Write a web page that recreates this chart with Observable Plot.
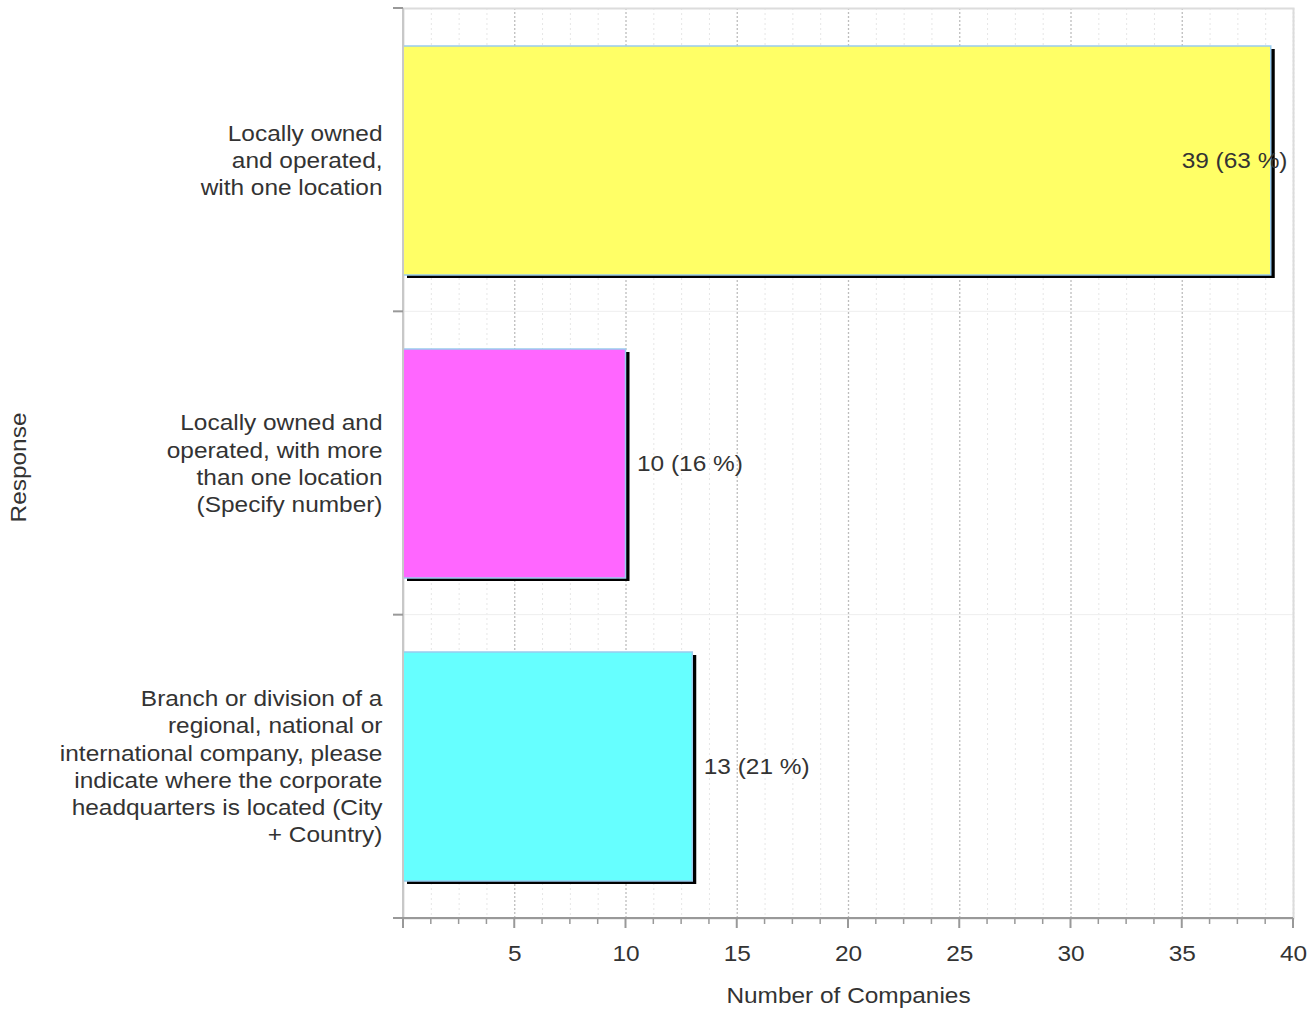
<!DOCTYPE html>
<html>
<head>
<meta charset="utf-8">
<script src="https://cdn.jsdelivr.net/npm/d3@7"></script>
<script src="https://cdn.jsdelivr.net/npm/@observablehq/plot@0.6"></script>
<style>
  html, body { margin: 0; padding: 0; background: #fff; }
  #chart { width: 1316px; height: 1011px; }
</style>
</head>
<body>
<div id="chart"></div>
<script>
const categories = [
  "Locally owned\nand operated,\nwith one location",
  "Locally owned and\noperated, with more\nthan one location\n(Specify number)",
  "Branch or division of a\nregional, national or\ninternational company, please\nindicate where the corporate\nheadquarters is located (City\n+ Country)"
];
const counts = [39, 10, 13];
const percents = [63, 16, 21];
const colors = ["#ffff66", "#ff66ff", "#66ffff"];
const majorTicks = [5, 10, 15, 20, 25, 30, 35, 40];
const minorTicks = [0, 1.25, 2.5, 3.75, 6.25, 7.5, 8.75, 11.25, 12.5, 13.75, 16.25, 17.5, 18.75,
  21.25, 22.5, 23.75, 26.25, 27.5, 28.75, 31.25, 32.5, 33.75, 36.25, 37.5, 38.75];
const xLabel = "Number of Companies";
const yLabel = "Response";

const data = categories.map((c, i) => ({
  category: c, count: counts[i], pct: percents[i], color: colors[i],
  label: `${counts[i]} (${percents[i]} %)`
}));

const W = 1316, H = 1011;
const font = "'Liberation Sans', Arial, Helvetica, sans-serif";
const FS = 22;
const STRETCH = 1.11;
const inset = 37;

const bandEdges = (index, scales, values, dims) => {
  const {height, marginTop, marginBottom, marginLeft, width, marginRight} = dims;
  const n = categories.length;
  const bh = (height - marginTop - marginBottom) / n;
  const g = d3.create("svg:g");
  const right = width - marginRight;
  for (let i = 1; i < n; i++) {
    const y = marginTop + i * bh;
    g.append("line").attr("x1", marginLeft).attr("x2", right).attr("y1", y).attr("y2", y)
      .attr("stroke", "#eeeeee").attr("stroke-width", 1);
  }
  return g.node();
};

const axesMark = (index, scales, values, dims) => {
  const {height, marginTop, marginBottom, marginLeft, width, marginRight} = dims;
  const n = categories.length;
  const bh = (height - marginTop - marginBottom) / n;
  const x = scales.x;
  const g = d3.create("svg:g");
  const right = width - marginRight;
  const bottom = height - marginBottom;
  g.append("line").attr("x1", marginLeft).attr("x2", marginLeft).attr("y1", marginTop).attr("y2", bottom)
    .attr("stroke", "#c8c8c8").attr("stroke-width", 2);
  for (let i = 0; i <= n; i++) {
    const y = marginTop + i * bh;
    g.append("line").attr("x1", marginLeft - 10).attr("x2", marginLeft).attr("y1", y).attr("y2", y)
      .attr("stroke", "#999").attr("stroke-width", 2);
  }
  g.append("line").attr("x1", marginLeft).attr("x2", right).attr("y1", bottom).attr("y2", bottom)
    .attr("stroke", "#999").attr("stroke-width", 2);
  for (const t of [0, ...majorTicks]) {
    g.append("line").attr("x1", x(t)).attr("x2", x(t)).attr("y1", bottom).attr("y2", bottom + 10)
      .attr("stroke", "#999").attr("stroke-width", 2);
  }
  for (const t of minorTicks) {
    if (t === 0) continue;
    g.append("line").attr("x1", x(t)).attr("x2", x(t)).attr("y1", bottom).attr("y2", bottom + 6)
      .attr("stroke", "#999").attr("stroke-width", 1.5);
  }
  return g.node();
};

const chart = Plot.plot({
  width: W,
  height: H,
  marginLeft: 403,
  marginRight: 23,
  marginTop: 8,
  marginBottom: 93,
  style: {fontFamily: font, background: "#fff", overflow: "visible"},
  x: {domain: [0, 40], axis: null},
  y: {domain: categories, axis: null, padding: 0},
  marks: [
    Plot.gridX(minorTicks, {stroke: "#e6e6e6", strokeOpacity: 1, strokeDasharray: "2,3"}),
    bandEdges,
    Plot.gridX(majorTicks, {stroke: "#bdbdbd", strokeOpacity: 1, strokeDasharray: "2,2", strokeWidth: 1.3}),
    Plot.frame({stroke: "#dcdcdc", strokeWidth: 2}),
    Plot.barX(data, {x: "count", y: "category", fill: "#000", dx: 4, dy: 3, insetTop: inset, insetBottom: inset}),
    Plot.barX(data, {x: "count", y: "category", fill: "color", stroke: "#99ccee", strokeWidth: 1.5, insetTop: inset, insetBottom: inset}),
    axesMark,
    Plot.text(data.filter(d => d.count < 35), {x: "count", y: "category", text: "label", textAnchor: "start", dx: 11,
      fontSize: FS, fill: "#333"}),
    Plot.text(data.filter(d => d.count >= 35), {x: () => 40, y: "category", text: "label", textAnchor: "end", dx: -6,
      fontSize: FS, fill: "#333"}),
    Plot.text(data, {x: () => 0, y: "category", text: "category", textAnchor: "end", dx: -21, dy: -1.5,
      fontSize: FS, lineHeight: 1.24, fill: "#333"}),
    Plot.text(majorTicks, {x: d => d, frameAnchor: "bottom", lineAnchor: "middle", dy: 35, text: d => String(d), fontSize: FS, fill: "#333"}),
    Plot.text([xLabel], {frameAnchor: "bottom", lineAnchor: "middle", dy: 77, text: d => d, fontSize: FS, fill: "#333"}),
    Plot.text([yLabel], {frameAnchor: "left", textAnchor: "middle", lineAnchor: "middle", dx: -385, dy: 4, rotate: -90, text: d => d, fontSize: FS, fill: "#333"})
  ]
});

document.getElementById("chart").appendChild(chart);

// widen glyphs along the baseline, keeping each text's anchor point fixed
chart.querySelectorAll("text").forEach(t => {
  const bb = t.getBBox();
  const anchor = getComputedStyle(t).textAnchor;
  const ax = anchor === "end" ? bb.x + bb.width : anchor === "middle" ? bb.x + bb.width / 2 : bb.x;
  const tr = t.getAttribute("transform") || "";
  t.setAttribute("transform", `${tr} translate(${ax},0) scale(${STRETCH},1) translate(${-ax},0)`);
});
</script>
</body>
</html>
